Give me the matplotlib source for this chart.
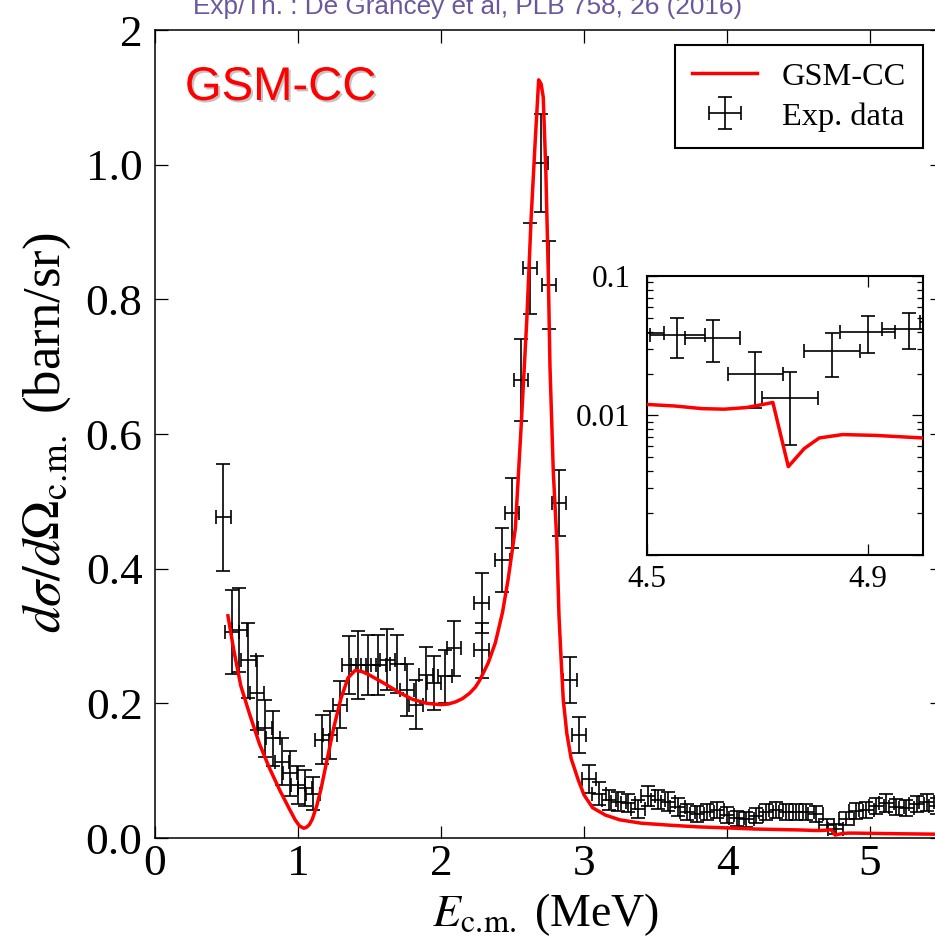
import matplotlib
matplotlib.use('Agg')
import matplotlib.pyplot as plt
import matplotlib.patheffects as pe
from matplotlib.ticker import LogLocator, NullFormatter

# ---------------- data ----------------
# Experimental data: energy (MeV), cross section (barn/sr), error
E_exp = [0.478, 0.536, 0.590, 0.653, 0.711, 0.769, 0.827, 0.886, 0.944, 1.002,
         1.049, 1.103, 1.166, 1.224, 1.294, 1.359, 1.422, 1.492, 1.562, 1.625,
         1.695, 1.760, 1.823, 1.895, 1.953, 2.028, 2.091, 2.284, 2.284, 2.429,
         2.494, 2.557, 2.622, 2.697, 2.757, 2.827, 2.900, 2.967,
         3.035, 3.104, 3.173, 3.241, 3.310, 3.379, 3.448, 3.517, 3.586, 3.654,
         3.723, 3.792, 3.861, 3.930, 3.998, 4.067, 4.136, 4.205, 4.274, 4.342,
         4.411, 4.480, 4.555, 4.619, 4.696, 4.759, 4.835, 4.900, 4.975, 5.045,
         5.115, 5.185, 5.255, 5.325, 5.395, 5.465]
sig_exp = [0.476, 0.306, 0.309, 0.264, 0.215, 0.163, 0.148, 0.113, 0.096, 0.079,
           0.074, 0.066, 0.146, 0.153, 0.198, 0.257, 0.257, 0.257, 0.257, 0.265,
           0.259, 0.220, 0.198, 0.242, 0.230, 0.240, 0.282, 0.349, 0.279, 0.413,
           0.483, 0.680, 0.846, 1.002, 0.821, 0.497, 0.235, 0.153,
           0.088, 0.066, 0.057, 0.054, 0.052, 0.043, 0.062, 0.057, 0.054, 0.046,
           0.038, 0.036, 0.039, 0.041, 0.034, 0.029, 0.028, 0.033, 0.039, 0.041,
           0.039, 0.039, 0.038, 0.036, 0.020, 0.0133, 0.0288, 0.0396, 0.0419, 0.047,
           0.052, 0.046, 0.045, 0.050, 0.053, 0.048]
err_exp = [0.080, 0.062, 0.063, 0.056, 0.055, 0.042, 0.041, 0.035, 0.033, 0.028,
           0.027, 0.025, 0.036, 0.036, 0.035, 0.043, 0.050, 0.044, 0.044, 0.045,
           0.043, 0.039, 0.036, 0.041, 0.040, 0.039, 0.041, 0.045, 0.041, 0.048,
           0.052, 0.061, 0.068, 0.073, 0.065, 0.049, 0.034, 0.027,
           0.021, 0.017, 0.015, 0.014, 0.014, 0.013, 0.015, 0.014, 0.014, 0.013,
           0.012, 0.012, 0.012, 0.012, 0.012, 0.011, 0.011, 0.011, 0.012, 0.012,
           0.012, 0.012, 0.012, 0.012, 0.0087, 0.0072, 0.010, 0.0117, 0.012, 0.012,
           0.013, 0.012, 0.012, 0.012, 0.013, 0.012]
E_binhalf = 0.05

# GSM-CC theory curve
E_th = [0.510, 0.550, 0.600, 0.660, 0.730, 0.800, 0.870, 0.940, 0.980, 1.010,
        1.040, 1.060, 1.080, 1.100, 1.130, 1.160, 1.200, 1.250, 1.300, 1.350,
        1.400, 1.450, 1.500, 1.600, 1.700, 1.800, 1.900, 2.000, 2.050, 2.100,
        2.150, 2.200, 2.240, 2.270, 2.330, 2.380, 2.430, 2.470, 2.520, 2.560,
        2.600, 2.630, 2.660, 2.683, 2.700, 2.715, 2.733, 2.750, 2.762, 2.785,
        2.810, 2.825, 2.840, 2.855, 2.880, 2.910, 2.960, 3.000, 3.060, 3.150,
        3.250, 3.400, 3.600, 3.800, 4.000, 4.200, 4.400, 4.500, 4.550, 4.600,
        4.640, 4.680, 4.710, 4.728, 4.756, 4.785, 4.812, 4.854, 4.914, 5.000,
        5.200, 5.500]
sig_th = [0.330, 0.280, 0.226, 0.185, 0.140, 0.104, 0.072, 0.043, 0.027, 0.018,
          0.0145, 0.016, 0.020, 0.028, 0.047, 0.072, 0.113, 0.164, 0.207, 0.238,
          0.249, 0.247, 0.242, 0.230, 0.217, 0.206, 0.200, 0.198, 0.199, 0.202,
          0.207, 0.215, 0.224, 0.234, 0.260, 0.290, 0.335, 0.385, 0.460, 0.610,
          0.770, 0.920, 1.040, 1.126, 1.120, 1.100, 0.990, 0.840, 0.700, 0.545,
          0.440, 0.330, 0.265, 0.205, 0.155, 0.118, 0.086, 0.064, 0.045, 0.034,
          0.027, 0.022, 0.019, 0.0165, 0.0150, 0.0133, 0.0124, 0.0120, 0.0117, 0.0112,
          0.0111, 0.0114, 0.0120, 0.0124, 0.0043, 0.0058, 0.0069, 0.0073, 0.0072, 0.0069,
          0.0063, 0.0056]

x_ticks = [0, 1, 2, 3, 4, 5]
x_ticklabels = ['0', '1', '2', '3', '4', '5']
y_ticks = [0.0, 0.2, 0.4, 0.6, 0.8, 1.0, 1.2]
y_ticklabels = ['0.0', '0.2', '0.4', '0.6', '0.8', '1.0', '2']
in_x_ticks = [4.5, 4.9]
in_x_ticklabels = ['4.5', '4.9']
in_y_ticks = [0.001, 0.01, 0.1]
in_y_ticklabels = ['', '0.01', '0.1']

# ---------------- style ----------------
plt.rcParams['font.family'] = ['Liberation Serif', 'DejaVu Serif']
plt.rcParams['mathtext.fontset'] = 'stix'

fig = plt.figure(figsize=(9.35, 9.48), dpi=100)
ax = fig.add_axes([0.16578, 0.11603, 0.8412, 0.85232])

eb = ax.errorbar(E_exp, sig_exp, xerr=E_binhalf, yerr=err_exp, fmt='none',
                 ecolor='black', elinewidth=1.2, capsize=5, capthick=1.2,
                 label='Exp. data', zorder=2)
line, = ax.plot(E_th, sig_th, color='#ff0000', lw=2.5, label='GSM-CC', zorder=3)

ax.set_xlim(0, 5.5)
ax.set_ylim(0, 1.2)
ax.set_xticks(x_ticks)
ax.set_xticklabels(x_ticklabels)
ax.set_yticks(y_ticks)
ax.set_yticklabels(y_ticklabels)
ax.tick_params(direction='in', top=True, right=True, length=9, width=0.9,
               labelsize=32.6)
ax.tick_params(axis='x', pad=4)
ax.tick_params(axis='y', pad=9)
for s in ax.spines.values():
    s.set_linewidth(1.1)

ax.set_xlabel(r'$E_{\mathrm{c.\!m.}}$ (MeV)', fontsize=33)
ax.xaxis.set_label_coords(0.497, -0.066)
ax.set_ylabel(r'$d\sigma/d\Omega_{\mathrm{c.\!m.}}$ (barn/sr)', fontsize=38)
ax.yaxis.set_label_coords(-0.104, 0.502)

leg = ax.legend(handles=[line, eb], labels=['GSM-CC', 'Exp. data'],
                loc='upper right', bbox_to_anchor=(0.9765, 0.9814),
                fontsize=23.3, frameon=True, fancybox=False, edgecolor='black',
                framealpha=1, borderaxespad=0, handlelength=2.0,
                handletextpad=0.77, labelspacing=0.32, borderpad=0.52)
leg.get_frame().set_linewidth(1.5)

ax.text(0.038, 0.9134, 'GSM-CC', transform=ax.transAxes, color='#ff0000',
        fontsize=34, family='Liberation Sans',
        ha='left', va='baseline',
        path_effects=[pe.withSimplePatchShadow(offset=(1.5, -1.5),
                                               shadow_rgbFace='#888888', alpha=0.5)])

fig.text(193 / 935, 1 - 14 / 948, 'Exp/Th. : De Grancey et al, PLB 758, 26 (2016)',
         fontsize=18.8, color='#6b579c', family='Liberation Sans',
         ha='left', va='baseline')

# ---------------- inset ----------------
axin = fig.add_axes([0.69198, 0.41456, 0.29519, 0.29430])
axin.errorbar(E_exp, sig_exp, xerr=E_binhalf, yerr=err_exp, fmt='none',
              ecolor='black', elinewidth=1.2, capsize=5, capthick=1.2, zorder=2)
axin.plot(E_th, sig_th, color='#ff0000', lw=2.5, zorder=3)
axin.set_yscale('log')
axin.set_xlim(4.5, 5.0)
axin.set_ylim(0.001, 0.1)
axin.set_xticks(in_x_ticks)
axin.set_xticklabels(in_x_ticklabels)
axin.set_yticks(in_y_ticks)
axin.set_yticklabels(in_y_ticklabels)
axin.yaxis.set_minor_locator(LogLocator(base=10, subs=[2, 3, 4, 5, 6, 7, 8, 9]))
axin.yaxis.set_minor_formatter(NullFormatter())
axin.tick_params(which='both', direction='in', top=True, right=True, labelsize=22.5)
axin.tick_params(which='major', length=8, width=0.9)
axin.tick_params(which='minor', length=4, width=0.9)
axin.tick_params(axis='y', pad=12)
axin.tick_params(axis='x', pad=7)
for s in axin.spines.values():
    s.set_linewidth(1.5)

fig.savefig('out.png', dpi=100)
